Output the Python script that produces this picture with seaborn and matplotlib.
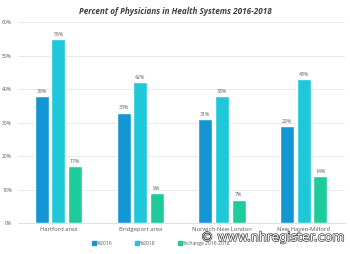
import matplotlib
matplotlib.use("Agg")
import matplotlib.pyplot as plt
import matplotlib.patheffects as pe
import seaborn as sns
import pandas as pd

# values
areas = ["Hartford area", "Bridgeport area", "Norwich-New London", "New Haven-Milford"]
pct_2016 = [38, 33, 31, 29]
pct_2018 = [55, 42, 38, 43]
pct_change = [17, 9, 7, 14]
series = ["%2016", "%2018", "%change 2016-2018"]
colors = ["#1496d4", "#1ec8d8", "#1ecb9b"]
y_ticks = [0, 10, 20, 30, 40, 50, 60]

rows = []
for s, vals in zip(series, [pct_2016, pct_2018, pct_change]):
    for a, v in zip(areas, vals):
        rows.append({"area": a, "series": s, "value": v})
df = pd.DataFrame(rows)

sns.set_style("white")
plt.rcParams['font.family'] = ['Open Sans', 'DejaVu Sans']

fig = plt.figure(figsize=(3.5, 2.54), dpi=100)
ax = fig.add_axes([0.05, 0.122, 0.935, 0.791])

sns.barplot(data=df, x="area", y="value", hue="series", palette=colors,
            width=0.61, gap=0.16, ax=ax, legend=False, saturation=1)

for cont in ax.containers:
    ax.bar_label(cont, labels=[f"{int(v)}%" for v in cont.datavalues],
                 fontsize=3.8, color="#595959", padding=1.5)

ax.set_ylim(0, 60)
ax.set_yticks(y_ticks)
ax.set_yticklabels([f"{t}%" for t in y_ticks], fontsize=3.6, color="#595959")
ax.tick_params(axis="x", labelsize=4.2, labelcolor="#595959", length=0, pad=3)
ax.tick_params(axis="y", length=0, pad=4)
ax.yaxis.grid(True, color="#e6e6e6", lw=0.6)
ax.set_axisbelow(True)
ax.set_xlabel("")
ax.set_ylabel("")
for sp in ax.spines.values():
    sp.set_visible(False)
ax.spines["bottom"].set_visible(True)
ax.spines["bottom"].set_color("#d9d9d9")
ax.spines["bottom"].set_linewidth(0.6)

fig.text(0.5, 0.955, "Percent of Physicians in Health Systems 2016-2018",
         ha="center", va="center", fontsize=5.9, style="italic",
         fontweight="bold", color="#404040")

handles = [plt.Line2D([], [], marker="s", ls="", color=c, markersize=2.2) for c in colors]
fig.legend(handles, series, loc="center", bbox_to_anchor=(0.46, 0.043), ncol=3,
           frameon=False, fontsize=3.6, labelcolor="#595959", handletextpad=0.2,
           columnspacing=4.5, handlelength=0.8)

fig.text(0.985, 0.065, "© www.nhregister.com", ha="right", va="center",
         fontsize=9, color="white", family="DejaVu Sans",
         path_effects=[pe.withStroke(linewidth=1.0, foreground="#444444")])

fig.savefig("out.png", dpi=100)
